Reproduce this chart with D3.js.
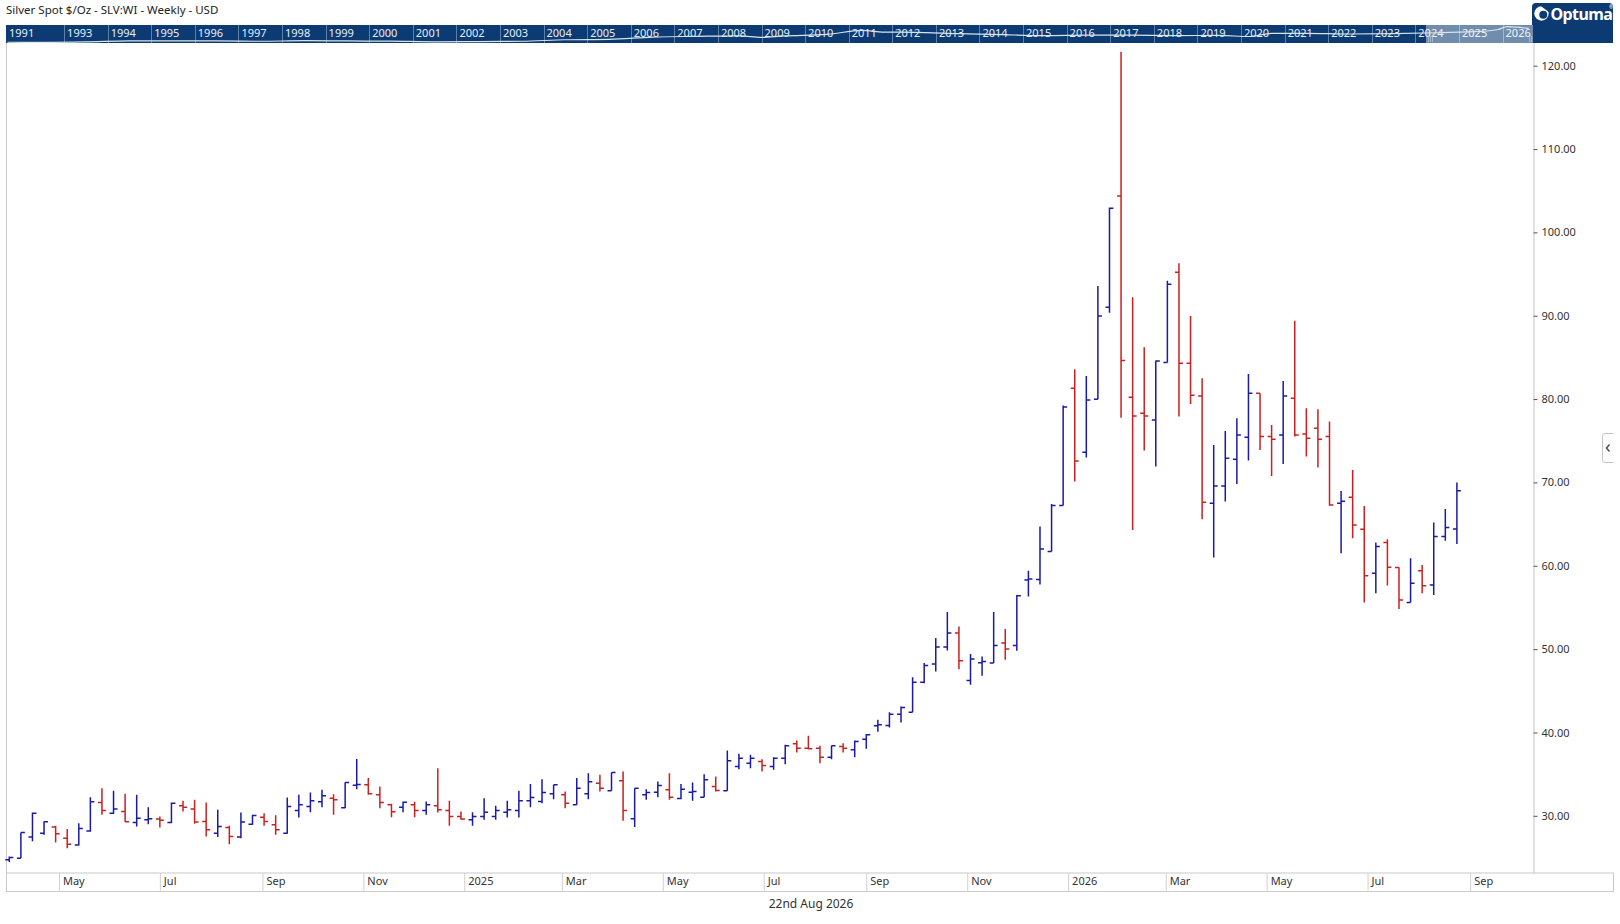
<!DOCTYPE html>
<html>
<head>
<meta charset="utf-8">
<script src="https://cdn.jsdelivr.net/npm/d3@7"></script>
<style>
  html, body { margin: 0; padding: 0; background: #fff; }
  svg { display: block; font-family: "Noto Sans", "Open Sans", sans-serif; }
</style>
</head>
<body>
<svg id="chart" width="1620" height="924"></svg>
<script>
// weekly bars, one per week starting at this monday
const firstWeek = "2024-04-01";

const opens = [24.73,24.92,27.45,27.92,28.65,27.32,26.49,28.17,31.60,30.32,
  30.53,29.20,29.52,29.61,29.20,31.20,30.81,29.32,27.92,28.60,
  27.45,29.00,29.84,28.92,27.92,30.64,31.12,31.68,32.12,30.96,
  33.66,33.72,32.52,31.32,31.04,31.32,30.64,31.20,30.64,29.92,
  29.52,29.92,29.92,30.43,30.64,31.80,31.72,32.64,32.52,31.32,
  32.64,33.92,33.01,34.20,29.64,32.52,32.84,33.12,32.08,32.84,
  32.24,33.52,33.01,35.92,36.32,36.52,35.92,36.91,38.64,38.11,
  38.11,37.04,38.32,37.92,39.20,40.82,40.84,42.20,42.44,46.04,
  48.20,50.24,51.92,46.24,48.35,48.32,50.72,50.44,58.30,58.36,
  61.72,67.24,81.30,73.62,79.98,91.02,104.37,80.22,78.30,77.50,
  84.38,95.21,84.30,80.38,67.51,69.58,72.78,75.42,80.70,75.50,
  75.70,80.10,75.82,76.50,75.50,67.50,68.23,64.38,59.10,62.80,
  59.78,55.60,59.40,57.70,63.50,64.40];

const highs = [25.12,28.00,30.40,29.32,28.80,28.41,29.12,32.24,33.32,33.01,
  32.64,32.52,31.04,29.92,31.60,31.80,31.92,31.60,30.72,28.80,
  30.40,30.12,30.32,30.08,32.20,32.52,32.80,33.12,32.60,34.04,
  36.83,34.53,33.52,31.44,31.72,31.68,31.72,35.72,31.80,30.53,
  30.43,32.12,31.20,31.80,33.01,33.81,34.40,33.72,32.93,34.53,
  35.12,34.92,35.20,35.32,33.32,33.20,34.12,35.12,33.83,34.00,
  35.00,34.72,37.84,37.44,37.32,36.80,37.04,38.52,39.05,39.60,
  38.40,38.44,38.72,39.05,39.83,41.52,42.44,43.12,46.64,48.32,
  51.32,54.44,52.72,49.40,49.12,54.44,52.40,56.48,59.40,64.72,
  67.40,79.24,83.58,82.78,93.57,102.97,121.68,92.21,86.22,84.62,
  94.21,96.29,89.97,82.50,74.50,76.18,77.70,83.02,80.70,76.90,
  82.18,89.40,78.90,78.78,77.30,68.98,71.50,67.18,62.78,63.18,
  59.82,60.90,60.10,65.20,66.80,70.00];

const lows = [24.45,24.92,26.94,27.73,26.81,26.11,26.44,28.09,30.12,30.24,
  29.25,28.72,29.00,28.60,29.12,30.53,29.04,27.53,27.45,26.60,
  27.32,28.92,28.80,27.73,27.85,29.80,30.43,31.04,30.12,30.92,
  33.20,32.52,30.92,29.84,30.43,29.84,30.12,30.40,28.80,29.52,
  28.80,29.52,29.52,29.80,29.80,31.04,31.52,32.00,30.92,31.32,
  32.00,32.93,33.01,29.40,28.65,31.92,32.24,31.92,32.00,31.80,
  32.24,32.93,33.01,35.60,35.72,35.32,35.52,36.18,37.60,37.99,
  36.32,36.80,37.60,37.04,38.04,40.10,40.60,41.20,42.44,45.92,
  47.32,49.84,47.60,45.72,46.80,48.32,48.72,49.80,56.32,57.76,
  61.72,67.24,70.10,72.98,79.98,90.37,77.76,64.30,73.82,71.90,
  84.38,77.90,79.42,65.59,61.00,67.71,69.82,72.62,73.90,70.78,
  72.22,75.50,73.10,71.78,67.20,61.50,63.30,55.58,56.70,57.62,
  54.80,55.60,56.70,56.50,63.00,62.60];

const closes = [25.01,28.00,30.32,29.28,27.85,26.60,28.49,31.68,30.64,30.81,
  29.28,29.72,29.64,29.48,31.52,31.04,29.25,28.33,28.72,27.53,
  29.25,30.04,29.32,28.33,31.12,31.32,31.80,32.40,31.92,34.00,
  33.76,32.64,31.60,30.49,31.64,30.64,31.32,30.72,29.92,29.61,
  29.92,30.43,30.64,30.72,31.80,32.20,32.80,33.72,31.52,33.32,
  34.08,33.32,35.20,30.64,33.32,32.80,33.64,32.24,33.20,32.92,
  34.32,33.05,36.62,36.91,36.91,36.04,36.91,38.40,38.11,38.06,
  37.04,38.40,38.11,38.92,39.72,40.92,42.20,43.00,46.04,48.04,
  50.24,51.92,48.60,48.80,48.50,50.44,50.00,56.40,58.40,62.00,
  67.24,79.04,72.58,79.90,89.97,102.89,84.62,77.98,77.98,84.58,
  93.78,84.30,80.46,67.63,69.58,72.90,75.70,80.70,75.50,75.18,
  80.38,75.70,75.30,75.18,67.30,67.75,64.90,58.79,62.30,59.82,
  55.90,57.90,57.60,63.50,64.60,69.00];

const priceTicks = [30, 40, 50, 60, 70, 80, 90, 100, 110, 120];

// long history strip in the header (rough yearly levels)
const historyYears = [1991.7,1992.5,1993.5,1994.5,1995.5,1996.5,1997.5,1998.5,1999.5,2000.5,
  2001.5,2002.5,2003.5,2004.5,2005.5,2006.5,2007.5,2008.5,2009.0,2009.5,
  2010.5,2011.3,2011.8,2012.5,2013.5,2014.5,2015.5,2016.5,2017.5,2018.5,
  2019.5,2020.2,2020.7,2021.5,2022.5,2023.5,2024.5,2025.5,2025.9,2026.1,2026.6];
const historyPrices = [4.0,3.9,4.3,5.3,5.2,5.2,4.9,5.5,5.2,5.0,
  4.4,4.6,4.9,6.7,7.3,11.5,13.4,15.0,11.0,14.7,
  20.2,45.0,32.0,31.0,23.8,19.1,15.7,17.1,17.0,15.7,
  16.2,13.0,25.0,25.1,21.7,23.4,28.3,37.0,55.0,100.0,68.0];
const historyLabels = ["1991","1993","1994","1995","1996","1997","1998","1999","2000","2001",
  "2002","2003","2004","2005","2006","2007","2008","2009","2010","2011","2012","2013","2014",
  "2015","2016","2017","2018","2019","2020","2021","2022","2023","2024","2025","2026"];

const title = "Silver Spot $/Oz - SLV:WI - Weekly - USD";
const dateLabel = "22nd Aug 2026";

const upColor = "#1a1aa8";
const downColor = "#cc2020";
const navy = "#0b3b72";

const svg = d3.select("#chart");

const plot = {left: 6, right: 1533, top: 43, bottom: 872.5};
const panelRight = 1613;

const start = d3.utcParse("%Y-%m-%d")(firstWeek);
const bars = opens.map((o, i) => ({
  date: d3.utcMonday.offset(start, i),
  o: o, h: highs[i], l: lows[i], c: closes[i]
}));

const x = d3.scaleUtc()
  .domain([new Date(Date.UTC(2024, 2, 30)), new Date(Date.UTC(2026, 9, 9))])
  .range([plot.left, plot.right]);

const y = d3.scaleLinear()
  .domain([23.2, 122.72])
  .range([plot.bottom, plot.top]);

// title
svg.append("text")
  .attr("x", 6).attr("y", 14)
  .attr("font-size", 11.5).attr("fill", "#222")
  .text(title);

// ---- header strip with the full history ----
const band = {top: 25, bottom: 43};
const bx = d3.scaleUtc()
  .domain([new Date(Date.UTC(1991, 8, 2)), new Date(Date.UTC(2026, 8, 13))])
  .range([plot.left, plot.right]);
const yearDate = yr => {
  const whole = Math.floor(yr);
  return new Date(Date.UTC(whole, 0, 1) + (yr - whole) * 365.25 * 864e5);
};
const by = d3.scaleLog().domain([3.8, 125]).range([band.bottom - 0.5, band.top + 0.5]);

// logo box behind
svg.append("rect")
  .attr("x", 1532).attr("y", 3).attr("width", panelRight - 1532).attr("height", 30)
  .attr("rx", 4).attr("fill", navy);

svg.append("rect")
  .attr("x", plot.left).attr("y", band.top)
  .attr("width", panelRight - plot.left).attr("height", band.bottom - band.top)
  .attr("fill", navy);

svg.append("clipPath").attr("id", "bandclip")
  .append("rect")
  .attr("x", plot.left).attr("y", band.top)
  .attr("width", plot.right - plot.left).attr("height", band.bottom - band.top);

const bandG = svg.append("g").attr("clip-path", "url(#bandclip)");

const sepYears = d3.range(1993, 2027);
bandG.selectAll("line.sep")
  .data(sepYears)
  .join("line")
  .attr("class", "sep")
  .attr("x1", d => Math.round(bx(new Date(Date.UTC(d, 0, 1)))) + 0.5)
  .attr("x2", d => Math.round(bx(new Date(Date.UTC(d, 0, 1)))) + 0.5)
  .attr("y1", band.top).attr("y2", band.bottom)
  .attr("stroke", "#5f7fa6").attr("stroke-width", 1);

const labelPos = [new Date(Date.UTC(1991, 8, 2))].concat(sepYears.map(d => new Date(Date.UTC(d, 0, 1))));
bandG.selectAll("text.yr")
  .data(historyLabels)
  .join("text")
  .attr("class", "yr")
  .attr("x", (d, i) => bx(labelPos[i]) + 3)
  .attr("y", 37)
  .attr("font-size", 11)
  .attr("fill", "#e8eef6")
  .text(d => d);

// selected range
const selX0 = bx(x.domain()[0]), selX1 = bx(x.domain()[1]);
bandG.append("rect")
  .attr("x", selX0).attr("y", band.top)
  .attr("width", selX1 - selX0).attr("height", band.bottom - band.top)
  .attr("fill", "#ffffff").attr("fill-opacity", 0.42);

const historyLine = d3.line()
  .x((d, i) => bx(yearDate(historyYears[i])))
  .y(d => by(d))
  .curve(d3.curveMonotoneX);

bandG.append("path")
  .datum(historyPrices)
  .attr("d", historyLine)
  .attr("fill", "none")
  .attr("stroke", "#d9e3ee")
  .attr("stroke-width", 1.2);

// grips at the selection edges
[selX0 + 4, selX1 - 5].forEach(gx => {
  [0, 2, 4].forEach(k => {
    bandG.append("line")
      .attr("x1", gx + k - 2 + 0.5).attr("x2", gx + k - 2 + 0.5)
      .attr("y1", 36).attr("y2", 42)
      .attr("stroke", "#b7c6d8").attr("stroke-width", 0.8);
  });
});

// logo
const logo = svg.append("g").attr("transform", "translate(1541.5,13.5)");
logo.append("circle").attr("r", 7.2).attr("fill", "#fff");
logo.append("circle").attr("cx", 1.8).attr("cy", 1.3).attr("r", 4).attr("fill", navy);
logo.append("path")
  .attr("d", "M-1.5,-8 L8,-8 L8,-1 Z")
  .attr("fill", navy);
svg.append("text")
  .attr("x", 1550.5).attr("y", 19.5)
  .attr("font-size", 16).attr("font-weight", "bold")
  .attr("fill", "#fff")
  .attr("letter-spacing", -0.6)
  .text("Optuma");
svg.append("text")
  .attr("x", 1609).attr("y", 9)
  .attr("font-size", 5).attr("fill", "#fff")
  .text("®");

// ---- frame ----
const frame = svg.append("g").attr("stroke", "#c9c9c9").attr("stroke-width", 1).attr("fill", "none");
frame.append("line").attr("x1", plot.left + 0.5).attr("x2", plot.left + 0.5).attr("y1", band.bottom).attr("y2", 892);
frame.append("line").attr("x1", plot.left).attr("x2", panelRight).attr("y1", plot.bottom + 0.5).attr("y2", plot.bottom + 0.5);
frame.append("line").attr("x1", plot.left).attr("x2", panelRight + 0.5).attr("y1", 891.5).attr("y2", 891.5);
frame.append("line").attr("x1", panelRight + 0.5).attr("x2", panelRight + 0.5).attr("y1", plot.bottom).attr("y2", 892);

// ---- price axis ----
const yAxis = svg.append("g")
  .attr("transform", `translate(${plot.right + 0.5},0)`)
  .call(d3.axisRight(y)
    .tickValues(priceTicks)
    .tickFormat(d3.format(".2f"))
    .tickSize(4)
    .tickSizeOuter(0)
    .tickPadding(4));
yAxis.select(".domain").attr("stroke", "#c4c4c4");
yAxis.selectAll(".tick line").attr("stroke", "#555");
yAxis.selectAll(".tick text")
  .attr("font-size", 11).attr("fill", "#333")
  .attr("font-family", "\"Noto Sans\", sans-serif");

// ---- date axis ----
const monthFmt = d3.utcFormat("%b");
const xAxis = svg.append("g")
  .attr("transform", `translate(0,${plot.bottom + 0.5})`)
  .call(d3.axisBottom(x)
    .ticks(d3.utcMonth.every(2))
    .tickFormat(d => d.getUTCMonth() === 0 ? String(d.getUTCFullYear()) : monthFmt(d))
    .tickSize(19)
    .tickSizeOuter(0));
xAxis.select(".domain").remove();
xAxis.selectAll(".tick line").attr("stroke", "#d0d0d0");
xAxis.selectAll(".tick text")
  .attr("text-anchor", "start")
  .attr("x", 3.5).attr("y", 12).attr("dy", null)
  .attr("font-size", 11).attr("fill", "#333")
  .attr("font-family", "\"Noto Sans\", sans-serif");

svg.append("text")
  .attr("x", 811).attr("y", 908)
  .attr("text-anchor", "middle")
  .attr("font-size", 12).attr("fill", "#333")
  .text(dateLabel);

// side tab
svg.append("path")
  .attr("d", `M${panelRight + 0.5},433.5 H1605 Q1602.5,433.5 1602.5,436 V460 Q1602.5,462.5 1605,462.5 H${panelRight + 0.5}`)
  .attr("fill", "#fff").attr("stroke", "#c4c4c4");
svg.append("path")
  .attr("d", "M1609.5,444.5 L1606.5,448 L1609.5,451.5")
  .attr("fill", "none").attr("stroke", "#555").attr("stroke-width", 1.6);

// ---- OHLC bars ----
svg.append("g")
  .selectAll("path")
  .data(bars)
  .join("path")
  .attr("d", d => {
    const cx = x(d.date);
    return `M${cx},${y(d.h)}V${y(d.l)}M${cx - 4},${y(d.o)}H${cx}M${cx},${y(d.c)}H${cx + 4}`;
  })
  .attr("fill", "none")
  .attr("stroke", d => d.c >= d.o ? upColor : downColor)
  .attr("stroke-width", 1.5);
</script>
</body>
</html>
